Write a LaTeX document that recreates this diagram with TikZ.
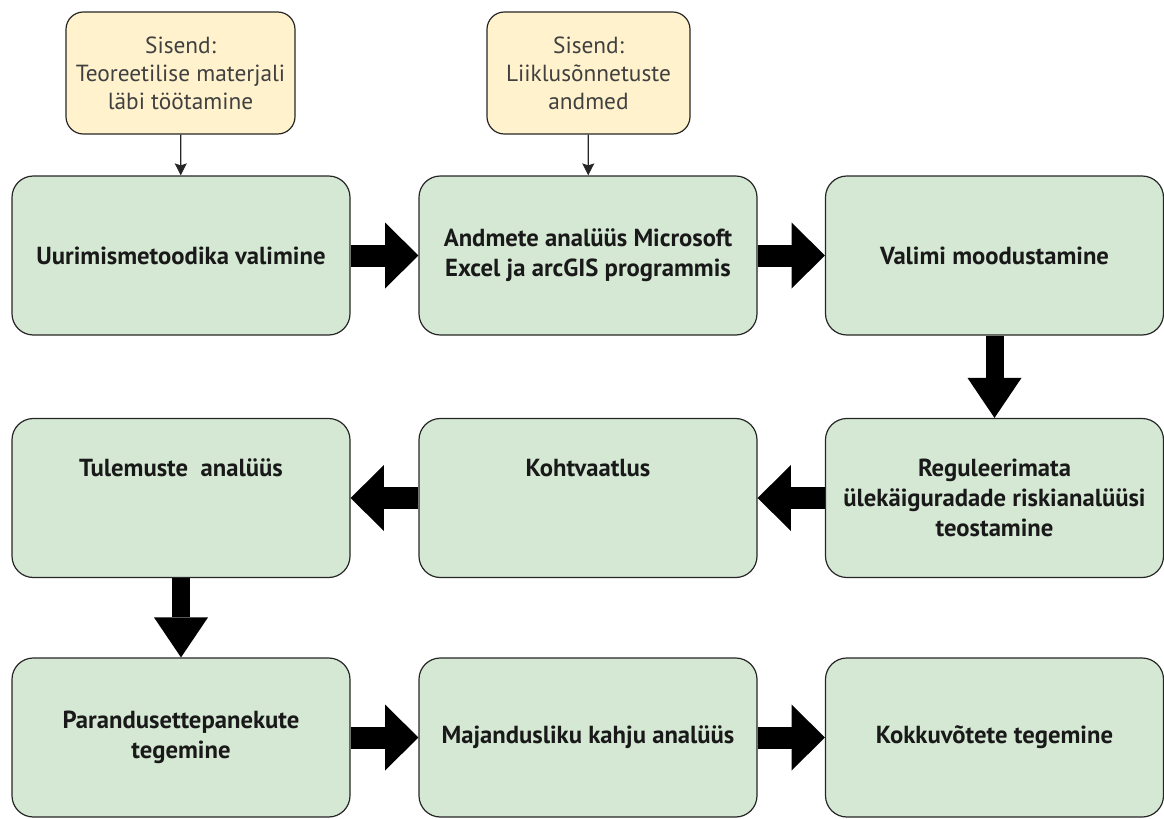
\documentclass[tikz,border=0pt]{standalone}
\usepackage{fontspec}
\setmainfont{PT Sans}
\usepackage{tikz}
\usetikzlibrary{arrows.meta}
\usepackage{xcolor}
\definecolor{step_green}{HTML}{D5E8D4}
\definecolor{input_yellow}{HTML}{FFF2CC}

\begin{document}
\begin{tikzpicture}[x=0.75pt, y=-0.75pt,
    stepbox/.style={draw=black!85, line width=0.9pt, fill=step_green, rounded corners=16pt,
      minimum width=253.5pt, minimum height=119.25pt, inner xsep=0pt, align=center,
      font=\fontsize{18.5}{22.5}\selectfont\bfseries, text=black!90},
    inputbox/.style={draw=black!85, line width=0.9pt, fill=input_yellow, rounded corners=13pt,
      minimum height=91.5pt, inner xsep=0pt, align=center,
      font=\fontsize{17.5}{21}\selectfont, text=black!75},
    thin/.style={draw=black!85, line width=0.9pt, -{Stealth[length=9pt, width=9pt, inset=1.5pt]}},
    hbig/.style={line width=16.5pt, -{Triangle[length=25pt, width=49.5pt, line width=0pt]}},
    vbig/.style={line width=13.5pt, -{Triangle[length=30pt, width=40.5pt, line width=0pt]}}]
  \useasboundingbox (0,0) rectangle (1164,818);
  % Inputs
  \node[inputbox, minimum width=171.75pt] (in1) at (180.5,73) {Sisend:\\Teoreetilise materjali\\läbi töötamine};
  \node[inputbox, minimum width=152.25pt] (in2) at (588.5,73) {Sisend:\\Liiklusõnnetuste\\andmed};
  % Steps, first row
  \node[stepbox] (method) at (181,255.5) {Uurimismetoodika valimine};
  \node[stepbox] (data) at (588,255.5) {Andmete analüüs Microsoft\\Excel ja arcGIS programmis};
  \node[stepbox] (sample) at (994.5,255.5) {Valimi moodustamine};
  % Steps, second row
  \node[stepbox] (risk) at (994.5,498) {Reguleerimata\\ülekäiguradade riskianalüüsi\\teostamine};
  \node[stepbox] (site) at (588,498) {Kohtvaatlus\\~\\~};
  \node[stepbox] (results) at (181,498) {Tulemuste~ analüüs\\~\\~};
  % Steps, third row
  \node[stepbox] (proposals) at (181,737.5) {Parandusettepanekute\\tegemine};
  \node[stepbox] (damage) at (588,737.5) {Majandusliku kahju analüüs};
  \node[stepbox] (summary) at (994.5,737.5) {Kokkuvõtete tegemine};
  % Input arrows
  \draw[thin] (in1) -- (method);
  \draw[thin] (in2) -- (data);
  % Flow arrows
  \draw[hbig] (method) -- (data);
  \draw[hbig] (data) -- (sample);
  \draw[vbig] (sample) -- (risk);
  \draw[hbig] (risk) -- (site);
  \draw[hbig] (site) -- (results);
  \draw[vbig] (results) -- (proposals);
  \draw[hbig] (proposals) -- (damage);
  \draw[hbig] (damage) -- (summary);
\end{tikzpicture}
\end{document}
